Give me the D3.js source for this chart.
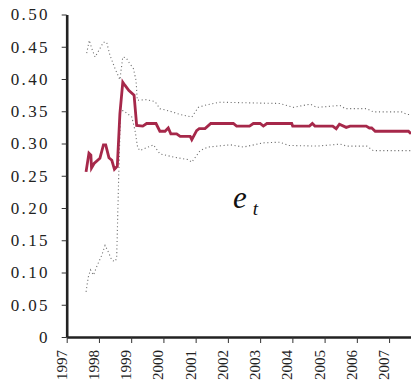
<!DOCTYPE html>
<html>
<head>
<meta charset="utf-8">
<script src="https://cdn.jsdelivr.net/npm/d3@7"></script>
</head>
<body style="margin:0">
<svg id="chart" width="411" height="385" font-family="Liberation Serif"></svg>
<script>
// Estimate e_t (decimal years) with upper and lower bounds
const estDates = [1997.60, 1997.69, 1997.75, 1997.77, 1997.85, 1998.03, 1998.14, 1998.21, 1998.31, 1998.40,
  1998.48, 1998.57, 1998.65, 1998.74, 1998.81, 1998.93, 1999.09, 1999.17, 1999.36, 1999.48,
  1999.77, 1999.89, 2000.05, 2000.15, 2000.23, 2000.41, 2000.52, 2000.83, 2000.88, 2001.03,
  2001.11, 2001.29, 2001.47, 2002.17, 2002.27, 2002.67, 2002.79, 2003.00, 2003.10, 2003.21,
  2003.98, 2004.01, 2004.53, 2004.62, 2004.70, 2005.25, 2005.36, 2005.46, 2005.67, 2005.79,
  2006.29, 2006.39, 2006.46, 2006.57, 2007.60, 2007.68];
const estValues = [0.256, 0.285, 0.282, 0.262, 0.269, 0.277, 0.298, 0.298, 0.278, 0.274,
  0.260, 0.265, 0.346, 0.395, 0.390, 0.382, 0.375, 0.328, 0.327, 0.331,
  0.331, 0.319, 0.319, 0.324, 0.315, 0.315, 0.311, 0.311, 0.306, 0.320,
  0.323, 0.323, 0.331, 0.331, 0.327, 0.327, 0.331, 0.331, 0.327, 0.331,
  0.331, 0.327, 0.327, 0.331, 0.327, 0.327, 0.323, 0.330, 0.325, 0.327,
  0.327, 0.324, 0.324, 0.319, 0.319, 0.315];

const upperDates = [1997.62, 1997.70, 1997.78, 1997.88, 1998.03, 1998.14, 1998.24, 1998.34, 1998.50, 1998.65,
  1998.74, 1998.84, 1998.93, 1999.07, 1999.15, 1999.19, 1999.48, 1999.74, 1999.89, 2000.21,
  2000.52, 2000.88, 2001.08, 2001.34, 2001.76, 2003.62, 2004.03, 2004.55, 2004.76, 2005.48,
  2005.64, 2006.31, 2006.51, 2007.39, 2007.55, 2007.68];
const upperValues = [0.440, 0.460, 0.447, 0.434, 0.447, 0.457, 0.457, 0.437, 0.416, 0.399,
  0.434, 0.433, 0.426, 0.416, 0.398, 0.367, 0.368, 0.365, 0.354, 0.350,
  0.345, 0.341, 0.356, 0.360, 0.364, 0.362, 0.356, 0.361, 0.356, 0.359,
  0.354, 0.354, 0.349, 0.349, 0.345, 0.345];

const lowerDates = [1997.60, 1997.67, 1997.74, 1997.83, 1997.93, 1998.09, 1998.19, 1998.29, 1998.40, 1998.50,
  1998.55, 1998.61, 1998.67, 1998.76, 1999.02, 1999.12, 1999.20, 1999.27, 1999.69, 1999.89,
  2000.31, 2000.77, 2000.88, 2001.14, 2001.39, 2002.07, 2002.48, 2003.10, 2003.62, 2003.88,
  2004.76, 2005.48, 2005.69, 2006.31, 2006.51, 2007.68];
const lowerValues = [0.070, 0.093, 0.104, 0.096, 0.109, 0.127, 0.142, 0.132, 0.119, 0.117,
  0.122, 0.243, 0.351, 0.351, 0.341, 0.320, 0.294, 0.289, 0.298, 0.284,
  0.279, 0.275, 0.271, 0.289, 0.2945, 0.298, 0.2945, 0.301, 0.302, 0.297,
  0.296, 0.299, 0.296, 0.296, 0.289, 0.289];

const yearTicks = [1997, 1998, 1999, 2000, 2001, 2002, 2003, 2004, 2005, 2006, 2007];
const valueTicks = [0, 0.05, 0.10, 0.15, 0.20, 0.25, 0.30, 0.35, 0.40, 0.45, 0.50];

const svg = d3.select("#chart");
const m = { left: 66.7, right: 411, top: 14.5, bottom: 337 };

const x = d3.scaleLinear().domain([1997, 2007.68]).range([m.left, m.right]);
const y = d3.scaleLinear().domain([0, 0.5]).range([m.bottom, m.top]);

const zip = (ds, vs) => ds.map((d, i) => [d, vs[i]]);
const line = d3.line().x(d => x(d[0])).y(d => y(d[1]));

// confidence bounds (dotted)
[zip(upperDates, upperValues), zip(lowerDates, lowerValues)].forEach(s => {
  svg.append("path")
    .attr("d", line(s))
    .attr("fill", "none")
    .attr("stroke", "#707070")
    .attr("stroke-width", 1.1)
    .attr("stroke-dasharray", "1.1,2.6");
});

// estimate
svg.append("path")
  .attr("d", line(zip(estDates, estValues)))
  .attr("fill", "none")
  .attr("stroke", "#a6284a")
  .attr("stroke-width", 2.8)
  .attr("stroke-linejoin", "miter");

// y axis: ticks and rules from d3.axisLeft, labels drawn as serif text
const yAxis = svg.append("g")
  .attr("transform", `translate(${m.left},0)`)
  .call(d3.axisLeft(y).tickValues(valueTicks).tickSize(5).tickSizeOuter(0).tickFormat(""));
yAxis.select(".domain").attr("stroke", "#222").attr("stroke-width", 2.6);
yAxis.selectAll(".tick line").attr("stroke", "#333").attr("stroke-width", 1);
svg.append("g").selectAll("text").data(valueTicks).join("text")
  .attr("x", 50)
  .attr("y", d => y(d))
  .attr("dy", "0.34em")
  .attr("text-anchor", "end")
  .attr("font-family", "Liberation Serif")
  .attr("font-size", 17)
  .attr("letter-spacing", 2.4)
  .attr("fill", "#222")
  .text(d => d === 0 ? "0" : d3.format(".2f")(d));

// x axis: rotated year labels
const xAxis = svg.append("g")
  .attr("transform", `translate(0,${m.bottom})`)
  .call(d3.axisBottom(x).tickValues(yearTicks).tickSize(6).tickSizeOuter(0).tickFormat(""));
xAxis.select(".domain").attr("stroke", "#222").attr("stroke-width", 2.6);
xAxis.selectAll(".tick line").attr("stroke", "#333").attr("stroke-width", 1);
svg.append("g").selectAll("text").data(yearTicks).join("text")
  .attr("transform", d => `translate(${x(d)},${m.bottom + 13}) rotate(-90)`)
  .attr("text-anchor", "end")
  .attr("font-family", "Liberation Serif")
  .attr("font-size", 15)
  .attr("fill", "#222")
  .text(d => d);

// series label
const lbl = svg.append("text")
  .attr("x", 233).attr("y", 208)
  .attr("font-family", "Liberation Serif")
  .attr("font-style", "italic")
  .attr("fill", "#111");
lbl.append("tspan").attr("font-size", 31).text("e");
lbl.append("tspan").attr("font-size", 19).attr("dx", 6).attr("dy", 7).text("t");
</script>
</body>
</html>
